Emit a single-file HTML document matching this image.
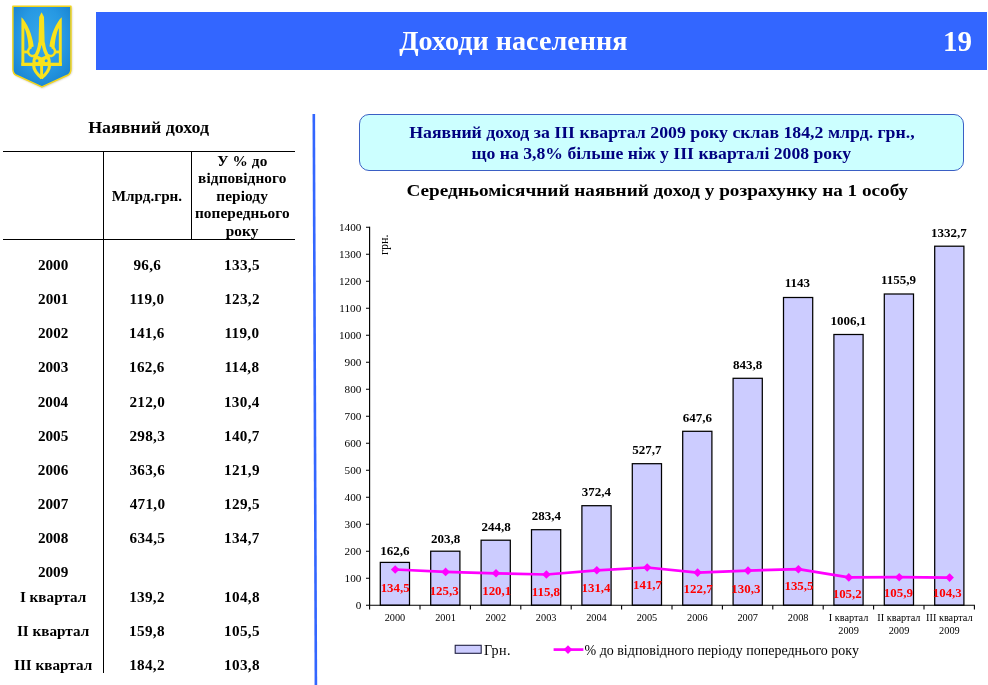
<!DOCTYPE html>
<html lang="uk"><head><meta charset="utf-8"><title>Доходи населення</title>
<style>
html,body{margin:0;padding:0;background:#fff}
body{width:988px;height:685px;position:relative;overflow:hidden;font-family:"Liberation Serif",serif;color:#000}
#hdr{position:absolute;left:96.2px;top:12.2px;width:890.500px;height:57.7px;background:#3366ff}
.hl{position:absolute;background:#000}
.t{position:absolute;white-space:nowrap;line-height:1}
.wh{color:#fff}
.nv{color:#000080}
#box{position:absolute;left:359px;top:113.500px;width:605px;height:57.5px;box-sizing:border-box;border:1.2px solid #3a5fc4;border-radius:10px;background:#ccffff}
svg text{font-family:"Liberation Serif",serif;fill:#000}
svg text.rd{fill:#ff0000}
</style></head><body>
<svg width="100" height="100" viewBox="0 0 100 100" style="position:absolute;left:0;top:0">
<defs><radialGradient id="sg" cx="0.5" cy="0.4" r="0.7"><stop offset="0" stop-color="#36a9eb"/><stop offset="0.55" stop-color="#2799e3"/><stop offset="1" stop-color="#167fcd"/></radialGradient>
<filter id="sb" x="-20%" y="-20%" width="140%" height="140%"><feGaussianBlur stdDeviation="1.1"/></filter></defs>
<path d="M13.6,7 H71.6 V69.6 Q71.6,74.2 68,75.900 L42.4,87.8 L16.8,75.900 Q13.6,74.2 13.6,69.6 Z" fill="#8a7a30" opacity="0.55" filter="url(#sb)"/>
<path d="M12.9,6.2 H70.9 V69.2 Q70.9,73.6 67.4,75.300 L41.9,86.900 L16.4,75.300 Q12.9,73.6 12.9,69.2 Z" fill="url(#sg)" stroke="#f3d51c" stroke-width="1.5" stroke-linejoin="round"/>
<g transform="translate(15,8) scale(0.11688)" fill="#f9e21c">
<g>
<path d="M55,80 C100,120 150,230 160,330 L116,344 C114,290 102,215 80,172 L80,495 L55,495 Z"/>
<rect x="78" y="364" width="34" height="24"/>
<path d="M142,334 A39,39 0 1 0 176,402" fill="none" stroke="#f9e21c" stroke-width="21"/>
<path d="M214,296 C209,340 194,388 166,428" fill="none" stroke="#f9e21c" stroke-width="30"/>
<path d="M172,400 C150,428 147,450 150,470 L228,470 L228,424 L200,410 Z"/>
<circle cx="188" cy="452" r="13" fill="#2b9ce4"/>
<path d="M159,488 C160,530 186,565 229,598" fill="none" stroke="#f9e21c" stroke-width="27"/>
</g>
<g transform="translate(455,0) scale(-1,1)">
<path d="M55,80 C100,120 150,230 160,330 L116,344 C114,290 102,215 80,172 L80,495 L55,495 Z"/>
<rect x="78" y="364" width="34" height="24"/>
<path d="M142,334 A39,39 0 1 0 176,402" fill="none" stroke="#f9e21c" stroke-width="21"/>
<path d="M214,296 C209,340 194,388 166,428" fill="none" stroke="#f9e21c" stroke-width="30"/>
<path d="M172,400 C150,428 147,450 150,470 L228,470 L228,424 L200,410 Z"/>
<circle cx="188" cy="452" r="13" fill="#2b9ce4"/>
<path d="M159,488 C160,530 186,565 229,598" fill="none" stroke="#f9e21c" stroke-width="27"/>
</g>
<path d="M227.5,36 L248,78 L254,320 L201,320 L207,78 Z"/>
<rect x="55" y="468" width="345" height="28"/>
<rect x="215" y="425" width="25" height="180"/>
</g>
</svg>
<div id="hdr"></div>
<div class="hl" style="left:3px;top:150.600px;width:291.500px;height:1.2px"></div>
<div class="hl" style="left:3px;top:238.700px;width:291.500px;height:1.2px"></div>
<div class="hl" style="left:103px;top:151px;width:1.2px;height:522px"></div>
<div class="hl" style="left:191px;top:151px;width:1.2px;height:88.500px"></div>
<div id="box"></div>
<div class="t wh" style="left:399.15px;top:27.00px;font-size:28.2px;font-weight:bold">Доходи населення</div>
<div class="t wh" style="left:943.12px;top:27.00px;font-size:29px;font-weight:bold">19</div>
<div class="t" style="left:88.13px;top:119.10px;font-size:17.9px;font-weight:bold;transform:scaleY(0.92);transform-origin:0 14px">Наявний доход</div>
<div class="t" style="left:111.66px;top:188.10px;font-size:15.2px;font-weight:bold;transform:scaleY(0.92);transform-origin:0 13px">Млрд.грн.</div>
<div class="t" style="left:217.24px;top:153.10px;font-size:15.3px;font-weight:bold;letter-spacing:0.1px;transform:scaleY(0.92);transform-origin:0 13px">У % до</div>
<div class="t" style="left:198.09px;top:170.40px;font-size:15.3px;font-weight:bold;letter-spacing:0.1px;transform:scaleY(0.92);transform-origin:0 13px">відповідного</div>
<div class="t" style="left:216.26px;top:187.80px;font-size:15.3px;font-weight:bold;letter-spacing:0.1px;transform:scaleY(0.92);transform-origin:0 13px">періоду</div>
<div class="t" style="left:194.89px;top:205.20px;font-size:15.3px;font-weight:bold;letter-spacing:0.1px;transform:scaleY(0.92);transform-origin:0 13px">попереднього</div>
<div class="t" style="left:225.77px;top:222.60px;font-size:15.3px;font-weight:bold;letter-spacing:0.1px;transform:scaleY(0.92);transform-origin:0 13px">року</div>
<div class="t" style="left:37.92px;top:257.04px;font-size:15.2px;font-weight:bold;transform:scaleY(0.94);transform-origin:0 13px">2000</div>
<div class="t" style="left:133.45px;top:257.04px;font-size:15.2px;font-weight:bold;letter-spacing:0.3px;transform:scaleY(0.94);transform-origin:0 13px">96,6</div>
<div class="t" style="left:224.12px;top:257.04px;font-size:15.2px;font-weight:bold;letter-spacing:0.3px;transform:scaleY(0.94);transform-origin:0 13px">133,5</div>
<div class="t" style="left:38.08px;top:291.19px;font-size:15.2px;font-weight:bold;transform:scaleY(0.94);transform-origin:0 13px">2001</div>
<div class="t" style="left:129.54px;top:291.19px;font-size:15.2px;font-weight:bold;letter-spacing:0.3px;transform:scaleY(0.94);transform-origin:0 13px">119,0</div>
<div class="t" style="left:224.20px;top:291.19px;font-size:15.2px;font-weight:bold;letter-spacing:0.3px;transform:scaleY(0.94);transform-origin:0 13px">123,2</div>
<div class="t" style="left:38.00px;top:325.34px;font-size:15.2px;font-weight:bold;transform:scaleY(0.94);transform-origin:0 13px">2002</div>
<div class="t" style="left:129.04px;top:325.34px;font-size:15.2px;font-weight:bold;letter-spacing:0.3px;transform:scaleY(0.94);transform-origin:0 13px">141,6</div>
<div class="t" style="left:224.54px;top:325.34px;font-size:15.2px;font-weight:bold;letter-spacing:0.3px;transform:scaleY(0.94);transform-origin:0 13px">119,0</div>
<div class="t" style="left:37.92px;top:359.49px;font-size:15.2px;font-weight:bold;transform:scaleY(0.94);transform-origin:0 13px">2003</div>
<div class="t" style="left:129.04px;top:359.49px;font-size:15.2px;font-weight:bold;letter-spacing:0.3px;transform:scaleY(0.94);transform-origin:0 13px">162,6</div>
<div class="t" style="left:224.54px;top:359.49px;font-size:15.2px;font-weight:bold;letter-spacing:0.3px;transform:scaleY(0.94);transform-origin:0 13px">114,8</div>
<div class="t" style="left:37.77px;top:393.64px;font-size:15.2px;font-weight:bold;transform:scaleY(0.94);transform-origin:0 13px">2004</div>
<div class="t" style="left:129.42px;top:393.64px;font-size:15.2px;font-weight:bold;letter-spacing:0.3px;transform:scaleY(0.94);transform-origin:0 13px">212,0</div>
<div class="t" style="left:223.97px;top:393.64px;font-size:15.2px;font-weight:bold;letter-spacing:0.3px;transform:scaleY(0.94);transform-origin:0 13px">130,4</div>
<div class="t" style="left:37.92px;top:427.79px;font-size:15.2px;font-weight:bold;transform:scaleY(0.94);transform-origin:0 13px">2005</div>
<div class="t" style="left:129.42px;top:427.79px;font-size:15.2px;font-weight:bold;letter-spacing:0.3px;transform:scaleY(0.94);transform-origin:0 13px">298,3</div>
<div class="t" style="left:224.04px;top:427.79px;font-size:15.2px;font-weight:bold;letter-spacing:0.3px;transform:scaleY(0.94);transform-origin:0 13px">140,7</div>
<div class="t" style="left:37.85px;top:461.94px;font-size:15.2px;font-weight:bold;transform:scaleY(0.94);transform-origin:0 13px">2006</div>
<div class="t" style="left:129.42px;top:461.94px;font-size:15.2px;font-weight:bold;letter-spacing:0.3px;transform:scaleY(0.94);transform-origin:0 13px">363,6</div>
<div class="t" style="left:224.12px;top:461.94px;font-size:15.2px;font-weight:bold;letter-spacing:0.3px;transform:scaleY(0.94);transform-origin:0 13px">121,9</div>
<div class="t" style="left:37.85px;top:496.09px;font-size:15.2px;font-weight:bold;transform:scaleY(0.94);transform-origin:0 13px">2007</div>
<div class="t" style="left:129.65px;top:496.09px;font-size:15.2px;font-weight:bold;letter-spacing:0.3px;transform:scaleY(0.94);transform-origin:0 13px">471,0</div>
<div class="t" style="left:224.12px;top:496.09px;font-size:15.2px;font-weight:bold;letter-spacing:0.3px;transform:scaleY(0.94);transform-origin:0 13px">129,5</div>
<div class="t" style="left:37.92px;top:530.24px;font-size:15.2px;font-weight:bold;transform:scaleY(0.94);transform-origin:0 13px">2008</div>
<div class="t" style="left:129.50px;top:530.24px;font-size:15.2px;font-weight:bold;letter-spacing:0.3px;transform:scaleY(0.94);transform-origin:0 13px">634,5</div>
<div class="t" style="left:224.04px;top:530.24px;font-size:15.2px;font-weight:bold;letter-spacing:0.3px;transform:scaleY(0.94);transform-origin:0 13px">134,7</div>
<div class="t" style="left:37.92px;top:564.39px;font-size:15.2px;font-weight:bold;transform:scaleY(0.94);transform-origin:0 13px">2009</div>
<div class="t" style="left:19.91px;top:588.74px;font-size:15.2px;font-weight:bold;transform:scaleY(0.94);transform-origin:0 13px">I квартал</div>
<div class="t" style="left:129.20px;top:588.74px;font-size:15.2px;font-weight:bold;letter-spacing:0.3px;transform:scaleY(0.94);transform-origin:0 13px">139,2</div>
<div class="t" style="left:224.12px;top:588.74px;font-size:15.2px;font-weight:bold;letter-spacing:0.3px;transform:scaleY(0.94);transform-origin:0 13px">104,8</div>
<div class="t" style="left:16.95px;top:622.54px;font-size:15.2px;font-weight:bold;transform:scaleY(0.94);transform-origin:0 13px">II квартал</div>
<div class="t" style="left:129.12px;top:622.54px;font-size:15.2px;font-weight:bold;letter-spacing:0.3px;transform:scaleY(0.94);transform-origin:0 13px">159,8</div>
<div class="t" style="left:224.12px;top:622.54px;font-size:15.2px;font-weight:bold;letter-spacing:0.3px;transform:scaleY(0.94);transform-origin:0 13px">105,5</div>
<div class="t" style="left:13.99px;top:657.34px;font-size:15.2px;font-weight:bold;transform:scaleY(0.94);transform-origin:0 13px">III квартал</div>
<div class="t" style="left:129.20px;top:657.34px;font-size:15.2px;font-weight:bold;letter-spacing:0.3px;transform:scaleY(0.94);transform-origin:0 13px">184,2</div>
<div class="t" style="left:224.12px;top:657.34px;font-size:15.2px;font-weight:bold;letter-spacing:0.3px;transform:scaleY(0.94);transform-origin:0 13px">103,8</div>
<div class="t nv" style="left:409.19px;top:123.70px;font-size:17.8px;font-weight:bold;transform:scaleY(0.92);transform-origin:0 14px">Наявний доход за ІІІ квартал 2009 року склав 184,2 млрд. грн.,</div>
<div class="t nv" style="left:471.58px;top:144.90px;font-size:17.7px;font-weight:bold;transform:scaleY(0.92);transform-origin:0 14px">що на 3,8% більше ніж у ІІІ кварталі 2008 року</div>
<div class="t" style="left:406.47px;top:179.80px;font-size:19.2px;font-weight:bold;transform:scaleY(0.9);transform-origin:0 16px">Середньомісячний наявний доход у розрахунку на 1 особу</div>
<svg id="chart" width="988" height="685" viewBox="0 0 988 685" style="position:absolute;left:0;top:0">
<rect x="380.3" y="562.4" width="29.2" height="42.8" fill="#ccccff" stroke="#000" stroke-width="1.25"/>
<rect x="430.7" y="551.2" width="29.2" height="54.0" fill="#ccccff" stroke="#000" stroke-width="1.25"/>
<rect x="481.1" y="540.2" width="29.2" height="65.0" fill="#ccccff" stroke="#000" stroke-width="1.25"/>
<rect x="531.5" y="529.7" width="29.2" height="75.5" fill="#ccccff" stroke="#000" stroke-width="1.25"/>
<rect x="581.9" y="505.7" width="29.2" height="99.5" fill="#ccccff" stroke="#000" stroke-width="1.25"/>
<rect x="632.3" y="463.7" width="29.2" height="141.5" fill="#ccccff" stroke="#000" stroke-width="1.25"/>
<rect x="682.7" y="431.3" width="29.2" height="173.9" fill="#ccccff" stroke="#000" stroke-width="1.25"/>
<rect x="733.1" y="378.3" width="29.2" height="226.9" fill="#ccccff" stroke="#000" stroke-width="1.25"/>
<rect x="783.5" y="297.5" width="29.2" height="307.7" fill="#ccccff" stroke="#000" stroke-width="1.25"/>
<rect x="833.9" y="334.5" width="29.2" height="270.7" fill="#ccccff" stroke="#000" stroke-width="1.25"/>
<rect x="884.3" y="294.0" width="29.2" height="311.2" fill="#ccccff" stroke="#000" stroke-width="1.25"/>
<rect x="934.7" y="246.2" width="29.2" height="359.0" fill="#ccccff" stroke="#000" stroke-width="1.25"/>
<path d="M369.6 226.8 V605.2 H974.9" fill="none" stroke="#000" stroke-width="1.15"/>
<path d="M366.0 605.2H369.6M366.0 578.2H369.6M366.0 551.2H369.6M366.0 524.2H369.6M366.0 497.2H369.6M366.0 470.3H369.6M366.0 443.3H369.6M366.0 416.3H369.6M366.0 389.3H369.6M366.0 362.3H369.6M366.0 335.3H369.6M366.0 308.3H369.6M366.0 281.3H369.6M366.0 254.3H369.6M366.0 227.3H369.6M369.6 605.2V609.6M420.0 605.2V609.6M470.4 605.2V609.6M520.8 605.2V609.6M571.2 605.2V609.6M621.6 605.2V609.6M672.0 605.2V609.6M722.4 605.2V609.6M772.8 605.2V609.6M823.2 605.2V609.6M873.6 605.2V609.6M924.0 605.2V609.6M974.4 605.2V609.6" stroke="#000" stroke-width="1.1" fill="none"/>
<polyline points="395.2,569.5 445.6,571.9 496.0,573.3 546.4,574.5 596.8,570.3 647.2,567.5 697.6,572.6 748.0,570.6 798.4,569.2 848.8,577.4 899.2,577.2 949.6,577.6" fill="none" stroke="#ff00ff" stroke-width="2.7" stroke-linejoin="round"/>
<path d="M390.9 569.5 L395.2 565.2 L399.5 569.5 L395.2 573.8Z" fill="#ff00ff"/>
<path d="M441.3 571.9 L445.6 567.6 L449.9 571.9 L445.6 576.2Z" fill="#ff00ff"/>
<path d="M491.7 573.3 L496.0 569.0 L500.3 573.3 L496.0 577.6Z" fill="#ff00ff"/>
<path d="M542.1 574.5 L546.4 570.2 L550.7 574.5 L546.4 578.8Z" fill="#ff00ff"/>
<path d="M592.5 570.3 L596.8 566.0 L601.1 570.3 L596.8 574.6Z" fill="#ff00ff"/>
<path d="M642.9 567.5 L647.2 563.2 L651.5 567.5 L647.2 571.8Z" fill="#ff00ff"/>
<path d="M693.3 572.6 L697.6 568.3 L701.9 572.6 L697.6 576.9Z" fill="#ff00ff"/>
<path d="M743.7 570.6 L748.0 566.3 L752.3 570.6 L748.0 574.9Z" fill="#ff00ff"/>
<path d="M794.1 569.2 L798.4 564.9 L802.7 569.2 L798.4 573.5Z" fill="#ff00ff"/>
<path d="M844.5 577.4 L848.8 573.1 L853.1 577.4 L848.8 581.7Z" fill="#ff00ff"/>
<path d="M894.9 577.2 L899.2 572.9 L903.5 577.2 L899.2 581.5Z" fill="#ff00ff"/>
<path d="M945.3 577.6 L949.6 573.3 L953.9 577.6 L949.6 581.9Z" fill="#ff00ff"/>
<text transform="translate(388.2,255) rotate(-90)" style="font-size:12.2px">грн.</text>
<rect x="455.2" y="645.3" width="26" height="8" fill="#ccccff" stroke="#222244" stroke-width="1.1"/>
<path d="M553.6 649.6 H583.4" stroke="#ff00ff" stroke-width="2.7"/>
<path d="M563.7 649.6 L568 645.3 L572.3 649.6 L568 653.9Z" fill="#ff00ff"/>
<path d="M313.8 114 L315.9 685" stroke="#3366ff" stroke-width="2.6" fill="none"/>
<text x="355.74" y="609.00" style="font-size:11.2px">0</text>
<text x="344.54" y="582.01" style="font-size:11.2px">100</text>
<text x="344.54" y="555.02" style="font-size:11.2px">200</text>
<text x="344.54" y="528.03" style="font-size:11.2px">300</text>
<text x="344.54" y="501.04" style="font-size:11.2px">400</text>
<text x="344.54" y="474.05" style="font-size:11.2px">500</text>
<text x="344.54" y="447.06" style="font-size:11.2px">600</text>
<text x="344.54" y="420.07" style="font-size:11.2px">700</text>
<text x="344.54" y="393.08" style="font-size:11.2px">800</text>
<text x="344.54" y="366.09" style="font-size:11.2px">900</text>
<text x="338.94" y="339.10" style="font-size:11.2px">1000</text>
<text x="339.35" y="312.11" style="font-size:11.2px">1100</text>
<text x="338.94" y="285.12" style="font-size:11.2px">1200</text>
<text x="338.94" y="258.13" style="font-size:11.2px">1300</text>
<text x="338.94" y="231.14" style="font-size:11.2px">1400</text>
<text x="384.65" y="621.20" style="font-size:10.3px">2000</text>
<text x="435.20" y="621.20" style="font-size:10.3px">2001</text>
<text x="485.55" y="621.20" style="font-size:10.3px">2002</text>
<text x="535.85" y="621.20" style="font-size:10.3px">2003</text>
<text x="586.15" y="621.20" style="font-size:10.3px">2004</text>
<text x="636.65" y="621.20" style="font-size:10.3px">2005</text>
<text x="687.00" y="621.20" style="font-size:10.3px">2006</text>
<text x="737.40" y="621.20" style="font-size:10.3px">2007</text>
<text x="787.85" y="621.20" style="font-size:10.3px">2008</text>
<text x="828.67" y="621.20" style="font-size:10.3px">I квартал</text>
<text x="838.30" y="634.20" style="font-size:10.3px">2009</text>
<text x="877.35" y="621.20" style="font-size:10.3px">II квартал</text>
<text x="888.70" y="634.20" style="font-size:10.3px">2009</text>
<text x="926.04" y="621.20" style="font-size:10.3px">III квартал</text>
<text x="939.10" y="634.20" style="font-size:10.3px">2009</text>
<text x="380.28" y="555.17" style="font-size:13px;font-weight:bold">162,6</text>
<text x="431.01" y="543.33" style="font-size:13px;font-weight:bold">203,8</text>
<text x="481.41" y="531.26" style="font-size:13px;font-weight:bold">244,8</text>
<text x="531.68" y="520.03" style="font-size:13px;font-weight:bold">283,4</text>
<text x="581.75" y="495.78" style="font-size:13px;font-weight:bold">372,4</text>
<text x="632.14" y="453.82" style="font-size:13px;font-weight:bold">527,7</text>
<text x="682.81" y="422.12" style="font-size:13px;font-weight:bold">647,6</text>
<text x="733.08" y="369.11" style="font-size:13px;font-weight:bold">843,8</text>
<text x="784.83" y="287.36" style="font-size:13px;font-weight:bold">1143</text>
<text x="830.53" y="324.85" style="font-size:13px;font-weight:bold">1006,1</text>
<text x="880.96" y="284.18" style="font-size:13px;font-weight:bold">1155,9</text>
<text x="931.04" y="237.00" style="font-size:13px;font-weight:bold">1332,7</text>
<text x="380.67" y="591.70" class="rd" style="font-size:12.9px;font-weight:bold">134,5</text>
<text x="429.67" y="595.00" class="rd" style="font-size:12.9px;font-weight:bold">125,3</text>
<text x="482.19" y="595.00" class="rd" style="font-size:12.9px;font-weight:bold">120,1</text>
<text x="531.72" y="596.40" class="rd" style="font-size:12.9px;font-weight:bold">115,8</text>
<text x="581.54" y="592.10" class="rd" style="font-size:12.9px;font-weight:bold">131,4</text>
<text x="633.00" y="589.10" class="rd" style="font-size:12.9px;font-weight:bold">141,7</text>
<text x="683.60" y="592.80" class="rd" style="font-size:12.9px;font-weight:bold">122,7</text>
<text x="731.37" y="592.80" class="rd" style="font-size:12.9px;font-weight:bold">130,3</text>
<text x="784.46" y="590.30" class="rd" style="font-size:12.9px;font-weight:bold">135,5</text>
<text x="832.73" y="598.40" class="rd" style="font-size:12.9px;font-weight:bold">105,2</text>
<text x="883.87" y="596.80" class="rd" style="font-size:12.9px;font-weight:bold">105,9</text>
<text x="932.76" y="596.80" class="rd" style="font-size:12.9px;font-weight:bold">104,3</text>
<text x="483.92" y="654.50" style="font-size:14.1px;letter-spacing:0.45px">Грн.</text>
<text x="584.47" y="654.50" style="font-size:14.0px">% до відповідного періоду попереднього року</text>
</svg>
</body></html>
